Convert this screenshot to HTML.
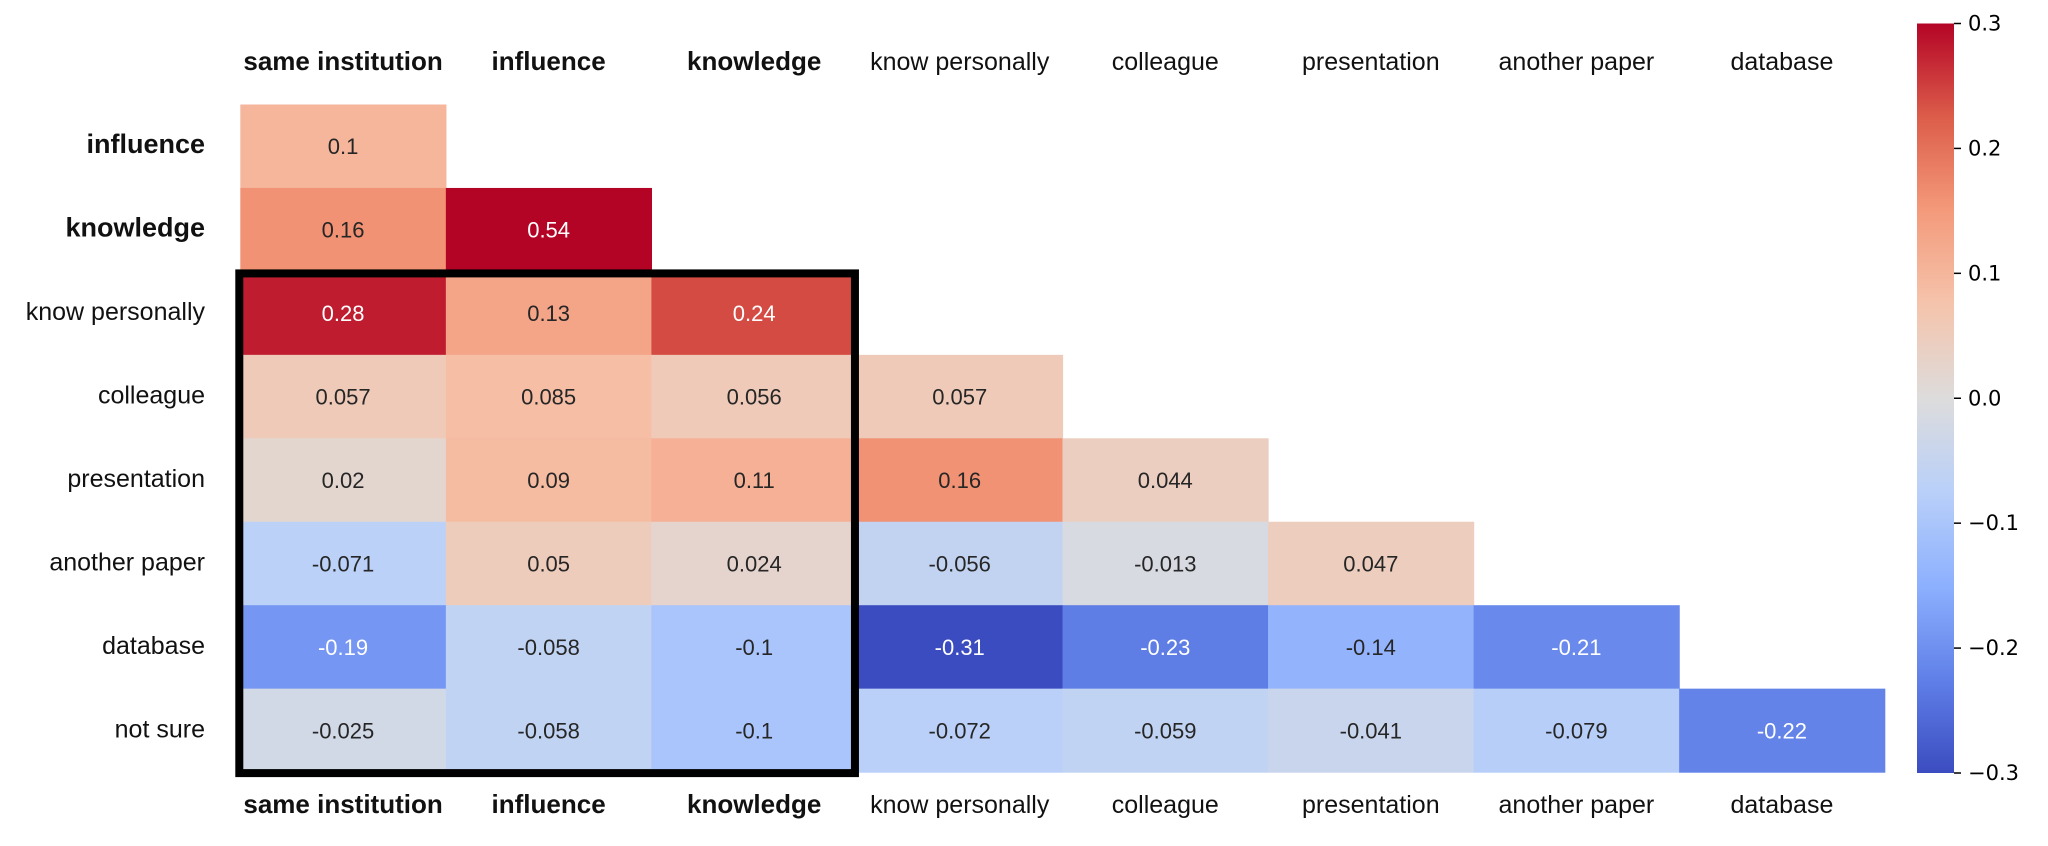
<!DOCTYPE html>
<html><head><meta charset="utf-8">
<style>
html,body{margin:0;padding:0;background:#fff;}
svg{display:block;}
text{font-family:"Liberation Sans","DejaVu Sans",sans-serif;}
</style></head>
<body>
<svg id="chart" width="2048" height="846" viewBox="0 0 2048 846" xmlns="http://www.w3.org/2000/svg"></svg>
<script>
const colLabels = ["same institution","influence","knowledge","know personally","colleague","presentation","another paper","database"];
const rowLabels = ["same institution","influence","knowledge","know personally","colleague","presentation","another paper","database","not sure"];
const boldLabels = ["same institution","influence","knowledge"];
const rowBold = ["influence","knowledge"];
const rowInfluence = [0.1];
const rowKnowledge = [0.16,0.54];
const rowKnowPersonally = [0.28,0.13,0.24];
const rowColleague = [0.057,0.085,0.056,0.057];
const rowPresentation = [0.02,0.09,0.11,0.16,0.044];
const rowAnotherPaper = [-0.071,0.05,0.024,-0.056,-0.013,0.047];
const rowDatabase = [-0.19,-0.058,-0.1,-0.31,-0.23,-0.14,-0.21];
const rowNotSure = [-0.025,-0.058,-0.1,-0.072,-0.059,-0.041,-0.079,-0.22];
const matrixRows = [rowInfluence,rowKnowledge,rowKnowPersonally,rowColleague,rowPresentation,rowAnotherPaper,rowDatabase,rowNotSure];
const cbTicks = [0.3,0.2,0.1,0.0,-0.1,-0.2,-0.3];
const cbTickLabels = ["0.3","0.2","0.1","0.0","\u22120.1","\u22120.2","\u22120.3"];
const vmin = -0.3, vmax = 0.3;

const NS = "http://www.w3.org/2000/svg";
const svg = document.getElementById("chart");
const gx0 = 240.3, gy0 = 104.5, cw = 205.55, ch = 83.45;
const x = c => gx0 + c*cw;
const y = r => gy0 + r*ch;

const stops = [[59,76,192],[96,128,232],[141,176,254],[185,208,249],[221,220,220],[245,196,172],[244,154,123],[220,93,74],[180,4,38]];
function cmap(v){
  let t = (v - vmin)/(vmax - vmin); t = Math.max(0, Math.min(1, t));
  const p = t*(stops.length-1); const i = Math.min(Math.floor(p), stops.length-2); const f = p - i;
  const a = stops[i], b = stops[i+1];
  return [0,1,2].map(k => Math.round(a[k] + (b[k]-a[k])*f));
}
function lum(c){
  const l = c.map(v => { v/=255; return v <= 0.03928 ? v/12.92 : Math.pow((v+0.055)/1.055, 2.4); });
  return 0.2126*l[0] + 0.7152*l[1] + 0.0722*l[2];
}
function mk(tag, attrs, txt){
  const e = document.createElementNS(NS, tag);
  for (const k in attrs) e.setAttribute(k, attrs[k]);
  if (txt !== undefined) e.textContent = txt;
  svg.appendChild(e); return e;
}

matrixRows.forEach((vals, ri) => {
  const r = ri + 1;
  vals.forEach((v, c) => {
    const col = cmap(v);
    const rect = mk("rect", {x: x(c), y: y(r-1), width: cw+0.6, height: ch+0.6, fill: `rgb(${col.join(",")})`});
    
    
    const t = mk("text", {x: x(c)+cw/2, y: y(r-1)+ch/2+8, "text-anchor": "middle", "font-size": 22, fill: lum(col) > 0.36 ? "#262626" : "#ffffff"}, String(v));
    
    
  });
});

colLabels.forEach((lab, c) => {
  const b = boldLabels.includes(lab);
  [61+9, 804+9].forEach((yy, k) => {
    const t = mk("text", {x: x(c)+cw/2, y: yy, "text-anchor": "middle", "font-size": b ? 26 : 25, "font-weight": b ? "bold" : "normal", fill: "#111"}, lab);
    
    
  });
});
rowLabels.slice(1).forEach((lab, i) => {
  const b = rowBold.includes(lab);
  const t = mk("text", {x: 205, y: y(i)+ch/2+7, "text-anchor": "end", "font-size": b ? 27 : 25, "font-weight": b ? "bold" : "normal", fill: "#111"}, lab);
  
  
});

const box = mk("rect", {x: x(0)-1, y: y(2)+2, width: x(3)-x(0)-1, height: y(8)-y(2)-1, fill: "none", stroke: "#000", "stroke-width": 8});



const cbx = 1917, cbw = 37, cby0 = 23.5, cby1 = 773;
const cbY = v => cby0 + (vmax - v)/(vmax - vmin)*(cby1 - cby0);
const defs = mk("defs", {});
const grad = document.createElementNS(NS, "linearGradient");
grad.setAttribute("id", "cbgrad"); grad.setAttribute("x1","0"); grad.setAttribute("y1","1"); grad.setAttribute("x2","0"); grad.setAttribute("y2","0");
stops.forEach((s, i) => {
  const st = document.createElementNS(NS, "stop");
  st.setAttribute("offset", i/(stops.length-1));
  st.setAttribute("stop-color", `rgb(${s.join(",")})`);
  grad.appendChild(st);
});
defs.appendChild(grad);
const cb = mk("rect", {x: cbx, y: cby0, width: cbw, height: cby1-cby0, fill: "url(#cbgrad)"});


cbTicks.forEach((v, i) => {
  const yy = cbY(v);
  const tk = mk("line", {x1: cbx+cbw, x2: cbx+cbw+7, y1: yy, y2: yy, stroke: "#000", "stroke-width": 1.5});
  
  
  const t = mk("text", {x: cbx+cbw+14, y: yy+7, "font-size": 21, fill: "#000", style: "font-family:'DejaVu Sans',sans-serif"}, cbTickLabels[i]);
  
  
});
</script>
</body></html>
